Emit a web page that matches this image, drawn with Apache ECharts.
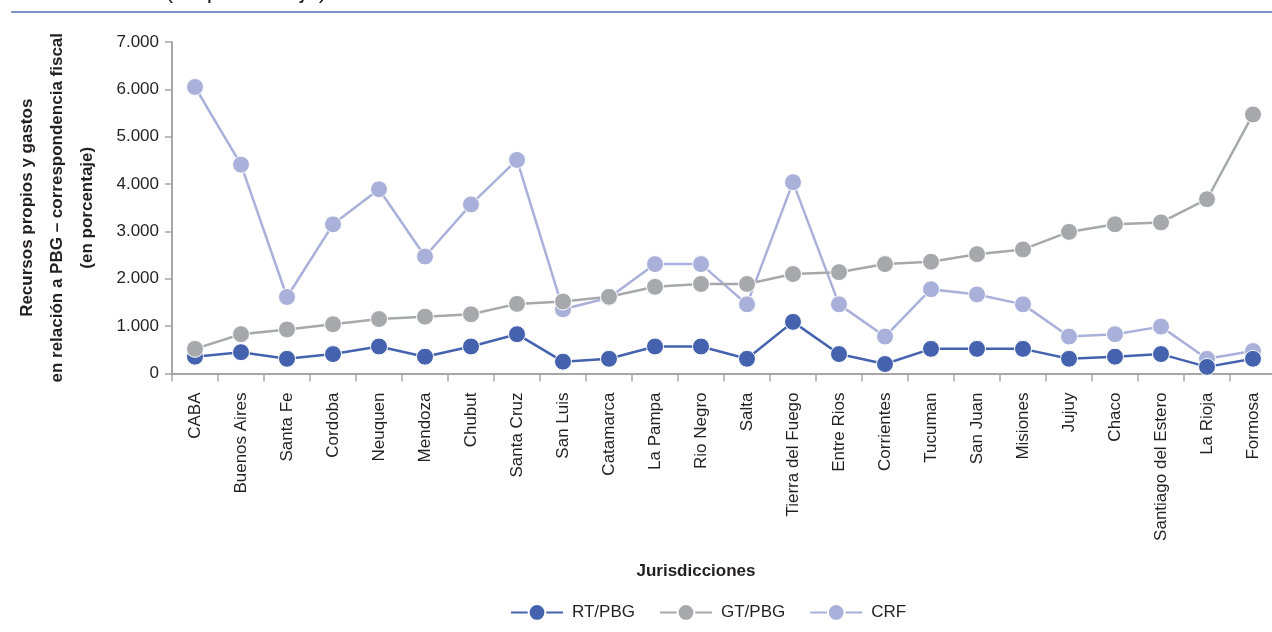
<!DOCTYPE html>
<html>
<head>
<meta charset="utf-8">
<script src="https://cdn.jsdelivr.net/npm/echarts@6/dist/echarts.min.js"></script>
<style>
  html, body { margin: 0; padding: 0; background: #ffffff; }
  #chart { width: 1272px; height: 632px; }
</style>
</head>
<body>
<div id="chart"></div>
<script>
// Jurisdictions on the category axis
const categories = [
  'CABA', 'Buenos Aires', 'Santa Fe', 'Cordoba', 'Neuquen', 'Mendoza', 'Chubut',
  'Santa Cruz', 'San Luis', 'Catamarca', 'La Pampa', 'Rio Negro', 'Salta',
  'Tierra del Fuego', 'Entre Rios', 'Corrientes', 'Tucuman', 'San Juan', 'Misiones',
  'Jujuy', 'Chaco', 'Santiago del Estero', 'La Rioja', 'Formosa'
];

// Own resources relative to gross product (%)
const rtPbg = [0.355, 0.45, 0.31, 0.41, 0.57, 0.355, 0.57, 0.83, 0.25, 0.31, 0.57, 0.57, 0.31,
  1.09, 0.41, 0.20, 0.52, 0.52, 0.52, 0.31, 0.355, 0.41, 0.14, 0.31];
// Expenditure relative to gross product (%)
const gtPbg = [0.52, 0.83, 0.93, 1.04, 1.15, 1.20, 1.25, 1.47, 1.52, 1.62, 1.83, 1.89, 1.89,
  2.10, 2.14, 2.31, 2.36, 2.52, 2.62, 2.99, 3.15, 3.19, 3.68, 5.47];
// Fiscal correspondence
const crf = [6.05, 4.41, 1.615, 3.15, 3.89, 2.47, 3.57, 4.51, 1.355, 1.60, 2.31, 2.31, 1.46,
  4.04, 1.46, 0.78, 1.78, 1.67, 1.46, 0.78, 0.83, 0.99, 0.31, 0.475];

const yTicks = { min: 0, max: 7, interval: 1 };

const FONT = "'Liberation Sans Narrow', 'Arial Narrow', 'Liberation Sans', Arial, sans-serif";
const TEXT = '#231f20';
const AXIS = '#a6a6a6';
const C_RT = '#4462ae';
const C_GT = '#a7a8ab';
const C_CRF = '#a9b0da';

function lineSeries(name, data, color, z) {
  return {
    name: name,
    type: 'line',
    data: data,
    z: z,
    symbol: 'circle',
    symbolSize: 17,
    showSymbol: true,
    lineStyle: { color: color, width: 2.5 },
    itemStyle: { color: color, borderColor: '#ffffff', borderWidth: 1 },
    emphasis: { disabled: true },
    animation: false
  };
}

const chart = echarts.init(document.getElementById('chart'), null, { renderer: 'canvas' });

chart.setOption({
  backgroundColor: '#ffffff',
  animation: false,
  textStyle: { fontFamily: FONT },
  grid: {
    left: 172, right: -4, top: 42, bottom: 258.5,
    containLabel: false, outerBoundsMode: 'none'
  },
  graphic: [
    {
      type: 'line',
      shape: { x1: 11, y1: 12, x2: 1272, y2: 12 },
      style: { stroke: '#7f91c9', lineWidth: 2 }
    },
    {
      type: 'text',
      x: 246, y: 3,
      style: {
        text: '(en porcentaje)', fontFamily: FONT, fontSize: 24, fill: TEXT,
        align: 'center', verticalAlign: 'bottom'
      }
    },
    {
      type: 'text',
      x: 696, y: 571,
      style: {
        text: 'Jurisdicciones', fontFamily: FONT, fontSize: 17, fontWeight: 'bold', fill: TEXT,
        align: 'center', verticalAlign: 'middle'
      }
    }
  ],
  legend: {
    data: ['RT/PBG', 'GT/PBG', 'CRF'],
    top: 598,
    left: 505,
    itemWidth: 52,
    itemHeight: 21,
    itemGap: 24,
    textStyle: { fontFamily: FONT, fontSize: 17, color: TEXT, padding: [0, 0, 0, 4] },
    selectedMode: false
  },
  xAxis: {
    type: 'category',
    data: categories,
    boundaryGap: true,
    axisLine: { lineStyle: { color: AXIS, width: 2 } },
    axisTick: { show: true, length: 8, lineStyle: { color: AXIS, width: 1.5 } },
    axisLabel: {
      rotate: 90, margin: 19, interval: 0,
      fontFamily: FONT, fontSize: 17, color: TEXT
    },
    splitLine: { show: false }
  },
  yAxis: {
    type: 'value',
    min: yTicks.min, max: yTicks.max, interval: yTicks.interval,
    name: 'Recursos propios y gastos\nen relación a PBG – correspondencia fiscal\n(en porcentaje)',
    nameLocation: 'middle',
    nameGap: 70,
    nameRotate: 90,
    nameTextStyle: {
      fontFamily: FONT, fontSize: 17, fontWeight: 'bold', color: TEXT, lineHeight: 30
    },
    axisLine: { show: true, lineStyle: { color: AXIS, width: 2 } },
    axisTick: { show: true, length: 7, lineStyle: { color: AXIS, width: 1.5 } },
    axisLabel: {
      margin: 13, fontFamily: FONT, fontSize: 17, color: TEXT,
      formatter: v => (v === 0 ? '0' : v.toFixed(3))
    },
    splitLine: { show: false }
  },
  series: [
    lineSeries('CRF', crf, C_CRF, 2),
    lineSeries('RT/PBG', rtPbg, C_RT, 3),
    lineSeries('GT/PBG', gtPbg, C_GT, 4)
  ]
});
</script>
</body>
</html>
